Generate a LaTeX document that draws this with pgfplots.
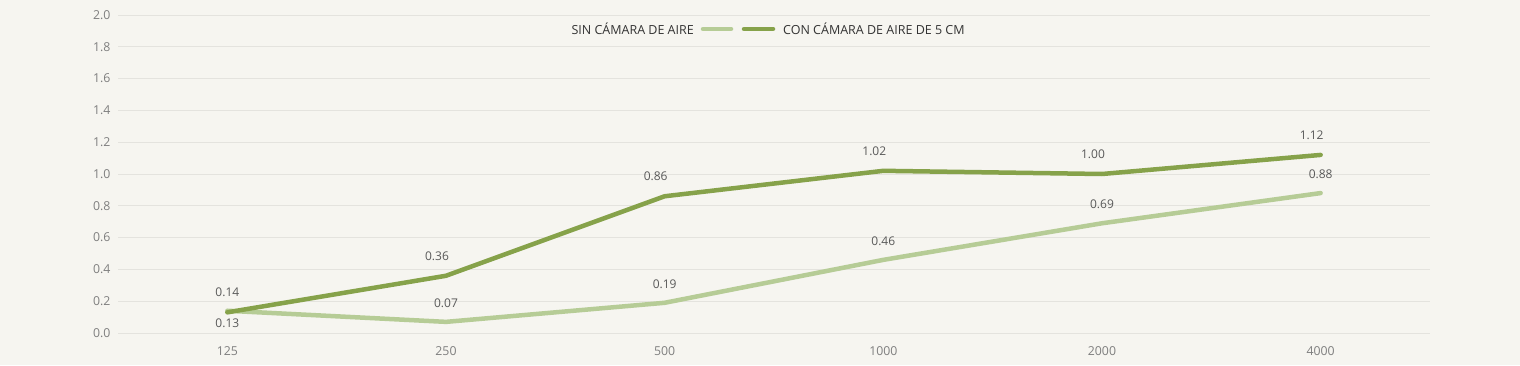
\documentclass[border=0pt]{standalone}
\usepackage{pgfplots}
\pgfplotsset{compat=1.18}
\usepackage{fontspec}
\setmainfont{Open Sans}
\definecolor{bg}{HTML}{F6F5F0}
\definecolor{gridc}{HTML}{E4E3DE}
\definecolor{lightg}{HTML}{B6CC96}
\definecolor{darkg}{HTML}{86A24A}
\definecolor{ticktxt}{HTML}{7F7F7F}
\definecolor{lbltxt}{HTML}{595959}
\definecolor{legtxt}{HTML}{333333}
\begin{document}
\begin{tikzpicture}[x=1pt,y=1pt]
\fill[bg] (0,0) rectangle (1520,365);
\begin{axis}[
  at={(118pt,32pt)}, anchor=south west,
  scale only axis, width=1312pt, height=318pt,
  xmin=-0.5, xmax=5.5, ymin=0, ymax=2,
  xtick={0,1,2,3,4,5},
  xticklabels={125,250,500,1000,2000,4000},
  ytick={0,0.2,0.4,0.6,0.8,1.0,1.2,1.4,1.6,1.8,2.0},
  yticklabel style={/pgf/number format/fixed, /pgf/number format/fixed zerofill, /pgf/number format/precision=1, xshift=-4pt},
  /pgf/number format/assume math mode=true,
  axis line style={draw=none},
  major tick length=0pt,
  ymajorgrids,
  grid style={gridc, line width=0.9pt},
  tick label style={font=\fontsize{12.3}{14}\selectfont, text=ticktxt},
  xticklabel style={yshift=-10pt},
  clip=false,
]
\addplot[lightg, line width=4.5pt, line cap=round, line join=round,
  nodes near coords, point meta=explicit symbolic,
  every node near coord/.style={font=\fontsize{12}{14}\selectfont, text=lbltxt, anchor=center, yshift=19pt}]
  coordinates {(0,0.14)[0.14] (1,0.07)[0.07] (2,0.19)[0.19] (3,0.46)[0.46] (4,0.69)[0.69] (5,0.88)[0.88]};
\addplot[darkg, line width=4.5pt, line cap=round, line join=round,
  nodes near coords, point meta=explicit symbolic,
  every node near coord/.style={font=\fontsize{12}{14}\selectfont, text=lbltxt, anchor=center, yshift=20pt, xshift=-9pt}]
  coordinates {(0,0.13)[] (1,0.36)[0.36] (2,0.86)[0.86] (3,1.02)[1.02] (4,1.00)[1.00] (5,1.12)[1.12]};
\addplot[draw=none, mark=none,
  nodes near coords, point meta=explicit symbolic,
  every node near coord/.style={font=\fontsize{12}{14}\selectfont, text=lbltxt, anchor=center, yshift=-11pt}]
  coordinates {(0,0.13)[0.13]};
\end{axis}
\node[anchor=east, inner sep=0pt, text=legtxt, font=\fontsize{12.5}{14}\selectfont] at (694,336) {SIN CÁMARA DE AIRE};
\draw[lightg, line width=4.5pt, line cap=round] (703,336) -- (731,336);
\draw[darkg, line width=4.5pt, line cap=round] (744,336) -- (773,336);
\node[anchor=west, inner sep=0pt, text=legtxt, font=\fontsize{12.5}{14}\selectfont] at (783,336) {CON CÁMARA DE AIRE DE 5 CM};
\end{tikzpicture}
\end{document}
